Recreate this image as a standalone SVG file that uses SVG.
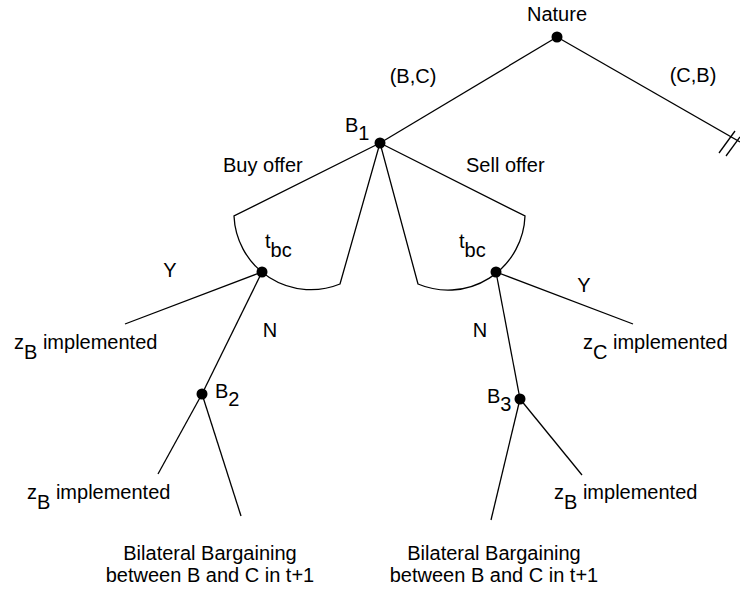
<svg xmlns="http://www.w3.org/2000/svg" width="740" height="590" viewBox="0 0 740 590">
<style>
text{font-family:"Liberation Sans",Arial,Helvetica,sans-serif;font-size:20px;fill:#000}
.e{stroke:#000;stroke-width:1.3;fill:none}
.d{fill:#000}
.m{text-anchor:middle}
</style>
<rect width="740" height="590" fill="#fff"/>
<g id="connectors">
<line class="e" x1="557" y1="37" x2="380" y2="143"/>
<line class="e" x1="557" y1="37" x2="740" y2="142"/>
<line class="e" x1="719" y1="153" x2="735" y2="131"/>
<line class="e" x1="726" y1="156" x2="740" y2="137"/>
<path class="e" d="M380,143 L234,216 A77,77 0 0 0 340,284 Z"/>
<path class="e" d="M380,143 L525,216 A77,77 0 0 1 418,284 Z"/>
<line class="e" x1="262" y1="272" x2="125" y2="324"/>
<line class="e" x1="262" y1="272" x2="202" y2="394"/>
<line class="e" x1="202" y1="394" x2="158" y2="474"/>
<line class="e" x1="202" y1="394" x2="241" y2="516"/>
<line class="e" x1="496" y1="272" x2="633" y2="324"/>
<line class="e" x1="496" y1="272" x2="520" y2="399"/>
<line class="e" x1="520" y1="399" x2="582" y2="475"/>
<line class="e" x1="520" y1="399" x2="491" y2="520"/>
<text class="m" x="413" y="83">(B,C)</text>
<text class="m" x="693" y="82">(C,B)</text>
<text x="223" y="172">Buy offer</text>
<text x="466" y="172">Sell offer</text>
<text class="m" x="170" y="277">Y</text>
<text class="m" x="270" y="337">N</text>
<text class="m" x="584" y="292">Y</text>
<text class="m" x="480" y="337">N</text>
</g>
<g id="nature"><circle class="d" cx="557" cy="37" r="5.5"/><text class="m" x="557" y="21">Nature</text></g>
<g id="b1"><circle class="d" cx="380" cy="143" r="5.5"/><text x="345" y="132">B<tspan dy="8">1</tspan></text></g>
<g id="tbc-buy"><circle class="d" cx="262" cy="272" r="5.5"/><text x="265" y="248">t<tspan dy="9">bc</tspan></text></g>
<g id="tbc-sell"><circle class="d" cx="496" cy="272" r="5.5"/><text x="459" y="248">t<tspan dy="9">bc</tspan></text></g>
<g id="b2"><circle class="d" cx="202" cy="394" r="5.5"/><text x="215" y="398">B<tspan dy="8">2</tspan></text></g>
<g id="b3"><circle class="d" cx="520" cy="399" r="5.5"/><text x="487" y="403">B<tspan dy="8">3</tspan></text></g>
<g id="zb-buy-yes"><text x="14" y="349">z<tspan dy="10">B</tspan><tspan dy="-10"> implemented</tspan></text></g>
<g id="zc-sell-yes"><text x="583" y="349">z<tspan dy="10">C</tspan><tspan dy="-10"> implemented</tspan></text></g>
<g id="zb-b2"><text x="27" y="499">z<tspan dy="10">B</tspan><tspan dy="-10"> implemented</tspan></text></g>
<g id="zb-b3"><text x="554" y="499">z<tspan dy="10">B</tspan><tspan dy="-10"> implemented</tspan></text></g>
<g id="bargain-b2"><text class="m" x="210" y="560">Bilateral Bargaining</text><text class="m" x="210" y="582">between B and C in t+1</text></g>
<g id="bargain-b3"><text class="m" x="494" y="560">Bilateral Bargaining</text><text class="m" x="494" y="582">between B and C in t+1</text></g>
</svg>
